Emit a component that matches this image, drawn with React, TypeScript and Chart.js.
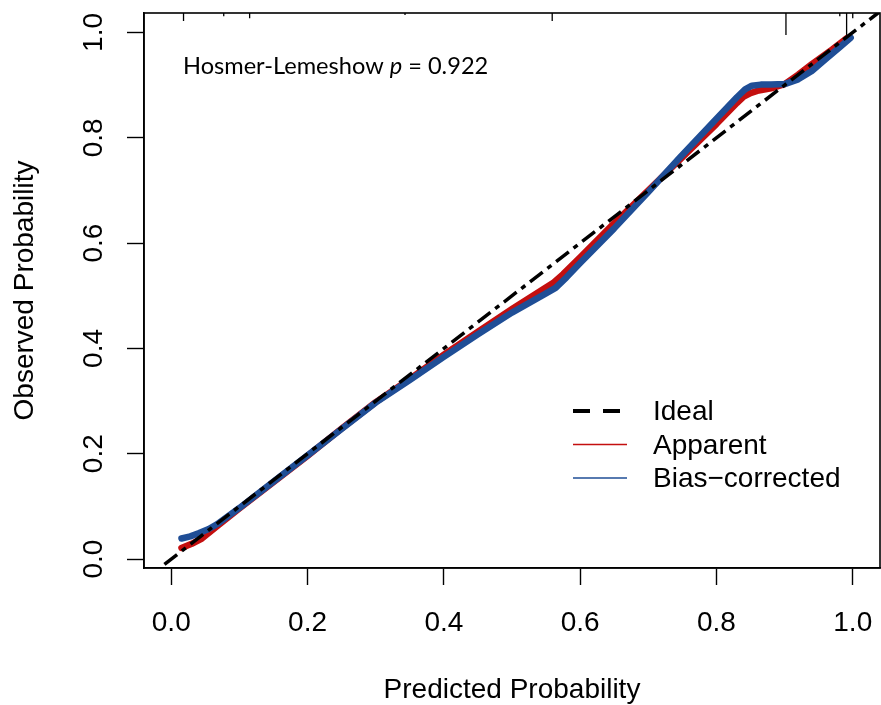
import React, { useEffect, useRef } from "react";
import { Chart, registerables } from "chart.js";

Chart.register(...registerables);

const FONT = '"Liberation Sans", Arial, Helvetica, sans-serif';
const NOTE_FONT = 'Lato, "Open Sans", sans-serif';

// axis settings
const tickValues = [0, 0.2, 0.4, 0.6, 0.8, 1.0];
const tickLabels = ["0.0", "0.2", "0.4", "0.6", "0.8", "1.0"];
const xMin = -0.04;
const xMax = 1.04;
const yMin = -0.017;
const yMax = 1.037;
const xTitle = "Predicted Probability";
const yTitle = "Observed Probability";

// annotation
const noteParts = ["Hosmer-Lemeshow ", "p", " = 0.922"];

// ideal line
const idealX = [-0.01, 1.04];
const idealY = [-0.01, 1.04];

// apparent calibration curve
const apparentX = [0.015, 0.03, 0.045, 0.07, 0.1, 0.15, 0.2, 0.25, 0.3, 0.35, 0.4, 0.45, 0.5, 0.545, 0.56, 0.575, 0.6, 0.65, 0.7, 0.746, 0.8, 0.83, 0.84, 0.85, 0.86, 0.88, 0.9, 0.92, 0.94, 0.97, 0.991];
const apparentY = [0.021, 0.029, 0.039, 0.065, 0.096, 0.146, 0.196, 0.248, 0.298, 0.342, 0.388, 0.432, 0.475, 0.512, 0.524, 0.541, 0.573, 0.638, 0.7, 0.758, 0.826, 0.866, 0.878, 0.885, 0.889, 0.894, 0.902, 0.92, 0.94, 0.968, 0.989];

// bias-corrected calibration curve
const biasX = [0.015, 0.028, 0.04, 0.055, 0.067, 0.1, 0.15, 0.2, 0.25, 0.3, 0.35, 0.4, 0.45, 0.5, 0.548, 0.564, 0.58, 0.6, 0.65, 0.7, 0.746, 0.8, 0.83, 0.842, 0.852, 0.865, 0.88, 0.9, 0.92, 0.94, 0.96, 0.98, 0.997];
const biasY = [0.039, 0.043, 0.049, 0.057, 0.066, 0.097, 0.147, 0.197, 0.247, 0.297, 0.34, 0.384, 0.427, 0.468, 0.503, 0.515, 0.535, 0.562, 0.628, 0.697, 0.762, 0.836, 0.877, 0.892, 0.899, 0.901, 0.901, 0.902, 0.911, 0.927, 0.949, 0.971, 0.99];

// rug (distribution of predictions) along the top
const rugX = [0.018, 0.077, 0.115, 0.343, 0.559, 0.902, 0.981, 0.991, 1.0];
const rugLen = [0.015, 0.006, 0.01, 0.004, 0.015, 0.042, 0.006, 0.045, 0.01];

const legendLabels = ["Ideal", "Apparent", "Bias\u2212corrected"];

const RED = "#C40F0F";
const BLUE = "#1F4E96";

function pts(xs: number[], ys: number[]) {
  return xs.map((x, i) => ({ x, y: ys[i] }));
}

function rugPoints() {
  const out: { x: number; y: number | null }[] = [];
  rugX.forEach((x, i) => {
    out.push({ x, y: yMax });
    out.push({ x, y: yMax - rugLen[i] });
    out.push({ x, y: null });
  });
  return out;
}

const rPlugin = {
  id: "rstyle",
  afterDraw(chart: any) {
    const { ctx, chartArea: a, scales } = chart;
    const xs = scales.x;
    const ys = scales.y;
    ctx.save();
    // frame
    ctx.strokeStyle = "#000";
    ctx.lineWidth = 1.6;
    ctx.strokeRect(a.left, a.top, a.right - a.left, a.bottom - a.top);

    ctx.fillStyle = "#000";
    ctx.font = `28px ${FONT}`;
    ctx.textAlign = "center";
    ctx.textBaseline = "alphabetic";
    // x tick labels
    tickValues.forEach((v, i) => {
      ctx.fillText(tickLabels[i], xs.getPixelForValue(v), a.bottom + 63);
    });
    // y tick labels (rotated)
    tickValues.forEach((v, i) => {
      ctx.save();
      ctx.translate(a.left - 42, ys.getPixelForValue(v));
      ctx.rotate(-Math.PI / 2);
      ctx.fillText(tickLabels[i], 0, 0);
      ctx.restore();
    });
    // axis titles
    ctx.fillText(xTitle, (a.left + a.right) / 2, a.bottom + 130);
    ctx.save();
    ctx.translate(a.left - 111, (a.top + a.bottom) / 2);
    ctx.rotate(-Math.PI / 2);
    ctx.fillText(yTitle, 0, 0);
    ctx.restore();

    // annotation
    ctx.textAlign = "left";
    let nx = a.left + 39;
    const ny = a.top + 61;
    noteParts.forEach((t, i) => {
      ctx.font = `${i === 1 ? "italic " : ""}23.6px ${NOTE_FONT}`;
      ctx.fillText(t, nx, ny);
      nx += ctx.measureText(t).width;
    });

    // legend
    const lx0 = a.left + 429;
    const baseY = a.top + 407;
    const step = 33.5;
    const dsByLabel: any = {};
    chart.data.datasets.forEach((d: any) => (dsByLabel[d.label] = d));
    legendLabels.forEach((lab, i) => {
      const by = baseY + i * step;
      const ly = by - 9;
      const d = dsByLabel[lab];
      ctx.save();
      ctx.beginPath();
      if (i === 0) {
        ctx.setLineDash([17, 13]);
        ctx.lineWidth = 4;
        ctx.moveTo(lx0, ly);
        ctx.lineTo(lx0 + 47, ly);
      } else {
        ctx.setLineDash([]);
        ctx.lineWidth = 1.6;
        ctx.moveTo(lx0, ly);
        ctx.lineTo(lx0 + 54, ly);
      }
      ctx.strokeStyle = d ? d.borderColor : "#000";
      ctx.stroke();
      ctx.restore();
      ctx.font = `28px ${FONT}`;
      ctx.fillStyle = "#000";
      ctx.fillText(lab, lx0 + 80, by);
    });
    ctx.restore();
  },
};

export default function App() {
  const ref = useRef<HTMLCanvasElement | null>(null);
  useEffect(() => {
    if (!ref.current) return;
    const setTicks = (axis: any) => {
      axis.ticks = tickValues.map((v) => ({ value: v }));
    };
    const chart = new Chart(ref.current, {
      type: "line",
      data: {
        datasets: [
          {
            label: "Ideal",
            data: pts(idealX, idealY),
            borderColor: "#000",
            borderWidth: 3.5,
            borderDash: [16, 6, 5, 6],
            pointRadius: 0,
            fill: false,
            clip: 0,
            order: 0,
          },
          {
            label: "Bias\u2212corrected",
            data: pts(biasX, biasY),
            borderColor: BLUE,
            borderWidth: 6.5,
            borderCapStyle: "round",
            borderJoinStyle: "round",
            tension: 0,
            pointRadius: 0,
            fill: false,
            order: 1,
          },
          {
            label: "Apparent",
            data: pts(apparentX, apparentY),
            borderColor: RED,
            borderWidth: 6.5,
            borderCapStyle: "round",
            borderJoinStyle: "round",
            tension: 0,
            pointRadius: 0,
            fill: false,
            order: 2,
          },
          {
            label: "rug",
            data: rugPoints(),
            borderColor: "#000",
            borderWidth: 1.3,
            pointRadius: 0,
            spanGaps: false,
            fill: false,
            clip: 2,
            order: 3,
          },
        ],
      } as any,
      options: {
        animation: false,
        responsive: false,
        devicePixelRatio: 1,
        layout: { padding: { left: 0, top: 13, right: 1, bottom: 0 } },
        plugins: { legend: { display: false }, tooltip: { enabled: false } },
        scales: {
          x: {
            type: "linear",
            min: xMin,
            max: xMax,
            afterBuildTicks: setTicks,
            afterFit: (s: any) => {
              s.height = 137;
            },
            ticks: { display: false },
            grid: {
              drawOnChartArea: false,
              drawTicks: true,
              tickLength: 17,
              tickColor: "#000",
              tickWidth: 1.4,
              color: "#000",
            },
            border: { display: true, color: "#000", width: 1.6 },
          },
          y: {
            type: "linear",
            min: yMin,
            max: yMax,
            afterBuildTicks: setTicks,
            afterFit: (s: any) => {
              s.width = 144;
            },
            ticks: { display: false },
            grid: {
              drawOnChartArea: false,
              drawTicks: true,
              tickLength: 17,
              tickColor: "#000",
              tickWidth: 1.4,
              color: "#000",
            },
            border: { display: true, color: "#000", width: 1.6 },
          },
        },
      } as any,
      plugins: [rPlugin],
    });
    return () => chart.destroy();
  }, []);
  return (
    <canvas
      ref={ref}
      width={881}
      height={705}
      style={{ position: "absolute", left: 0, top: 0, width: 881, height: 705, background: "#fff" }}
    />
  );
}
